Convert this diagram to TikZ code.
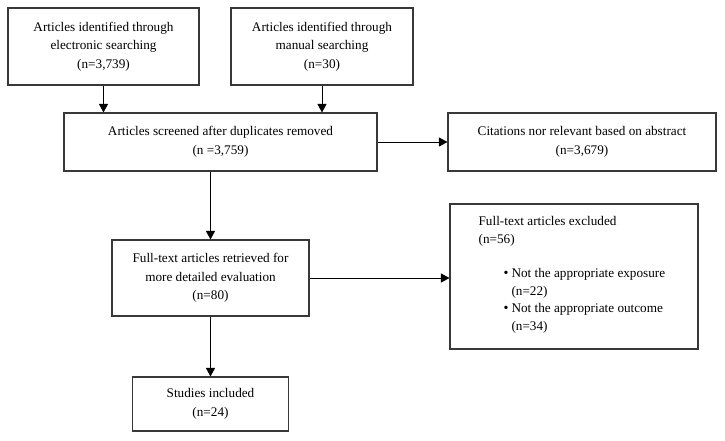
\documentclass[tikz,border=0pt]{standalone}
\usepackage{fontspec}
\setmainfont{Liberation Serif}
\usetikzlibrary{arrows.meta,calc}
\begin{document}
\begin{tikzpicture}[x=1pt,y=-1pt,
  box/.style={draw=black!78, line width=1.1pt, rectangle, inner sep=0pt, align=center,
    font=\fontsize{13.2}{18.5}\selectfont},
  txt/.style={inner sep=0pt, align=left, anchor=north west, font=\fontsize{13.2}{17.5}\selectfont},
  arr/.style={draw=black, line width=0.9pt, -{Triangle[width=9pt,length=8.5pt]}}]
\useasboundingbox (0,0) rectangle (725,440);
\node[box, minimum width=191pt, minimum height=77pt] (b1) at (103.5,46.5)
  {Articles identified through\\electronic searching\\(n=3,739)};
\node[box, minimum width=182pt, minimum height=77pt] (b2) at (322,46.5)
  {Articles identified through\\manual searching\\(n=30)};
\node[box, minimum width=313pt, minimum height=58pt] (b3) at (220.5,142)
  {Articles screened after duplicates removed\\(n =3,759)};
\node[box, minimum width=268pt, minimum height=58pt] (b4) at (582,142)
  {Citations nor relevant based on abstract\\(n=3,679)};
\node[box, minimum width=197pt, minimum height=76pt] (b5) at (210.5,278)
  {Full-text articles retrieved for\\more detailed evaluation\\(n=80)};
\node[box, minimum width=248pt, minimum height=145pt] (b6) at (574,276.5) {};
\node[txt] (b6a) at ([xshift=29pt,yshift=-13pt]b6.north west)
  {Full-text articles excluded\\(n=56)};
\node[txt] (b6b) at ([xshift=54pt,yshift=-62pt]b6.north west)
  {\begin{tabular}{@{}l@{\hspace{3pt}}l@{}}
   {\fontsize{14}{14}\selectfont\textbullet} & Not the appropriate exposure\\
   & (n=22)\\
   {\fontsize{14}{14}\selectfont\textbullet} & Not the appropriate outcome\\
   & (n=34)
   \end{tabular}};
\node[box, minimum width=156pt, minimum height=54pt] (b7) at (210.5,404)
  {Studies included\\(n=24)};
\draw[arr] (b1.south) -- (b1.south |- b3.north);
\draw[arr] (b2.south) -- (b2.south |- b3.north);
\draw[arr] (b3.east) -- (b4.west);
\draw[arr] (b5.north |- b3.south) -- (b5.north);
\draw[arr] (b5.east) -- (b6.west |- b5.east);
\draw[arr] (b5.south) -- (b7.north);
\end{tikzpicture}
\end{document}
